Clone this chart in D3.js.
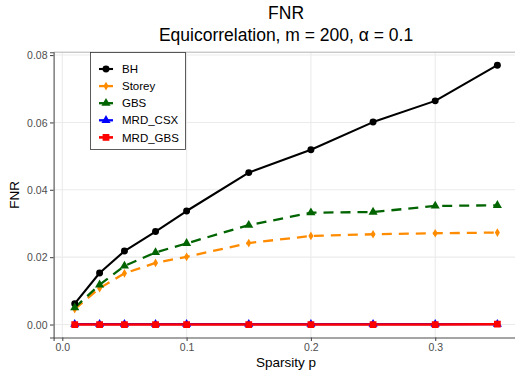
<!DOCTYPE html>
<html><head><meta charset="utf-8">
<script src="https://cdn.jsdelivr.net/npm/d3@7"></script>
<style>body{margin:0;background:#fff}svg{display:block;font-family:"Liberation Sans",Arial,sans-serif}</style>
</head><body><svg id="c" width="515" height="377"></svg>
<script>
const sparsity = [0.01, 0.03, 0.05, 0.075, 0.1, 0.15, 0.2, 0.25, 0.3, 0.35];
const methods = ["BH", "Storey", "GBS", "MRD_CSX", "MRD_GBS"];
const fnrBH      = [0.0062, 0.0153, 0.0218, 0.0276, 0.0337, 0.0451, 0.0519, 0.0601, 0.0664, 0.0770];
const fnrStorey  = [0.0046, 0.0108, 0.0152, 0.0183, 0.0201, 0.0242, 0.0263, 0.0268, 0.0271, 0.0273];
const fnrGBS     = [0.0050, 0.0118, 0.0174, 0.0214, 0.0241, 0.0295, 0.0332, 0.0334, 0.0352, 0.0354];
const fnrMRDCSX  = [0.0001, 0.0001, 0.0001, 0.0001, 0.0001, 0.0001, 0.0001, 0.0001, 0.0001, 0.0001];
const fnrMRDGBS  = [0, 0, 0, 0, 0, 0, 0, 0, 0, 0.0001];
const xTicks = [0.0, 0.1, 0.2, 0.3];
const yTicks = [0.00, 0.02, 0.04, 0.06, 0.08];
const titleText = "FNR";
const subtitleText = "Equicorrelation, m = 200, \u03b1 = 0.1";

const seriesValues = [fnrBH, fnrStorey, fnrGBS, fnrMRDCSX, fnrMRDGBS];
const style = {
  BH:      {color:"#000000", dash:null,   w:2.1, shape:"circle",   size:38},
  Storey:  {color:"#FF8C00", dash:"10,7", w:2.3, shape:"diamond",  size:22},
  GBS:     {color:"#006400", dash:"10,7", w:2.3, shape:"triangle", size:36},
  MRD_CSX: {color:"#0000FF", dash:null,   w:2.3, shape:"triangle", size:36},
  MRD_GBS: {color:"#FF0000", dash:null,   w:2.6, shape:"square",   size:46}
};
const data = methods.map((m,i)=>({name:m, values: sparsity.map((s,j)=>({x:s, y:seriesValues[i][j]}))}));

const svg = d3.select("#c");
const L = 53.6, R = 518.5, T = 52.2, B = 337.5;
const xDomain = [0.01, 0.35], yAll = seriesValues.flat();
const xr = xDomain[1]-xDomain[0], yMin = d3.min(yAll), yMax = d3.max(yAll), yr = yMax-yMin;
const x = d3.scaleLinear().domain([xDomain[0]-0.05*xr, xDomain[1]+0.05*xr]).range([L, R]);
const y = d3.scaleLinear().domain([yMin-0.05*yr, yMax+0.05*yr]).range([B, T]);

svg.append("defs").append("clipPath").attr("id","clip").append("rect")
  .attr("x",L).attr("y",T).attr("width",R-L).attr("height",B-T);

const panel = svg.append("g");
panel.append("rect").attr("x",L).attr("y",T).attr("width",R-L).attr("height",B-T).attr("fill","#fff");
// grid
panel.selectAll(".gx").data(xTicks).enter().append("line")
  .attr("x1",d=>x(d)).attr("x2",d=>x(d)).attr("y1",T).attr("y2",B)
  .attr("stroke","#ebebeb").attr("stroke-width",1.1);
panel.selectAll(".gy").data(yTicks).enter().append("line")
  .attr("y1",d=>y(d)).attr("y2",d=>y(d)).attr("x1",L).attr("x2",R)
  .attr("stroke","#ebebeb").attr("stroke-width",1.1);
// top border
panel.append("line").attr("x1",L).attr("x2",R).attr("y1",T).attr("y2",T).attr("stroke","#b3b3b3").attr("stroke-width",1);

const g = svg.append("g").attr("clip-path","url(#clip)");
const line = d3.line().x(d=>x(d.x)).y(d=>y(d.y));
data.forEach(s=>{
  const st = style[s.name];
  g.append("path").datum(s.values).attr("d",line).attr("fill","none")
    .attr("stroke",st.color).attr("stroke-width",st.w)
    .attr("stroke-dasharray",st.dash).attr("stroke-linejoin","round");
});
const symType = {circle:d3.symbolCircle, diamond:d3.symbolDiamond, triangle:d3.symbolTriangle, square:d3.symbolSquare};
data.forEach(s=>{
  const st = style[s.name];
  const sym = d3.symbol().type(symType[st.shape]).size(st.size);
  g.selectAll(null).data(s.values).enter().append("path")
    .attr("d",sym).attr("transform",d=>`translate(${x(d.x)},${y(d.y)})`)
    .attr("fill",st.color);
});

// axes
const axisColor = "#4d4d4d";
const ax = svg.append("g").attr("transform",`translate(0,${B})`)
  .call(d3.axisBottom(x).tickValues(xTicks).tickFormat(d3.format(".1f")).tickSize(3.6).tickPadding(2));
const ay = svg.append("g").attr("transform",`translate(${L},0)`)
  .call(d3.axisLeft(y).tickValues(yTicks).tickFormat(d3.format(".2f")).tickSize(3.6).tickPadding(2.5));
[ax, ay].forEach(a=>{
  a.select(".domain").attr("stroke",axisColor).attr("stroke-width",1.1);
  a.selectAll(".tick line").attr("stroke",axisColor).attr("stroke-width",1.1);
  a.selectAll(".tick text").attr("fill",axisColor).attr("font-size","10.5px")
    .attr("font-family","'Liberation Sans',Arial,sans-serif");
});
ay.selectAll(".tick text").attr("dy","0.36em");

// labels
svg.append("text").attr("x",(L+R)/2).attr("y",367).attr("text-anchor","middle")
  .attr("font-size","13.5px").attr("fill","#000").text("Sparsity p");
svg.append("text").attr("transform",`translate(19,${(T+B)/2}) rotate(-90)`).attr("text-anchor","middle")
  .attr("font-size","13.5px").attr("fill","#000").text("FNR");
svg.append("text").attr("x",(L+R)/2).attr("y",19).attr("text-anchor","middle")
  .attr("font-size","17.5px").attr("fill","#000").text(titleText);
svg.append("text").attr("x",(L+R)/2).attr("y",41).attr("text-anchor","middle")
  .attr("font-size","17.5px").attr("fill","#000").text(subtitleText);

// legend
const lg = svg.append("g");
lg.append("rect").attr("x",90.5).attr("y",52.5).attr("width",95).attr("height",97)
  .attr("fill","#fff").attr("stroke","#333").attr("stroke-width",0.8);
methods.forEach((m,i)=>{
  const st = style[m];
  const cy = 69 + i*17.1;
  lg.append("line").attr("x1",99).attr("x2",113).attr("y1",cy).attr("y2",cy)
    .attr("stroke",st.color).attr("stroke-width",st.w);
  lg.append("path").attr("d",d3.symbol().type(symType[st.shape]).size(st.size)())
    .attr("transform",`translate(106,${cy})`).attr("fill",st.color);
  lg.append("text").attr("x",122).attr("y",cy).attr("dy","0.36em")
    .attr("font-size","11.5px").attr("fill","#000").text(m);
});
</script></body></html>
